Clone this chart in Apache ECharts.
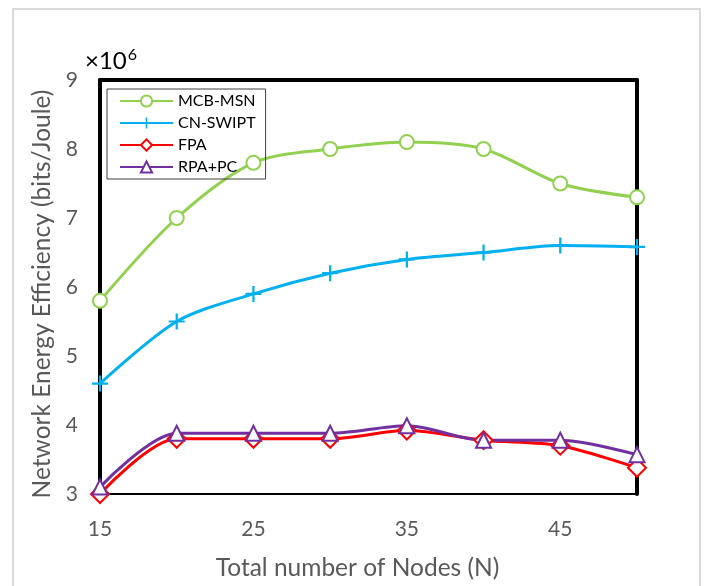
<!DOCTYPE html>
<html><head><meta charset="utf-8">
<script src="https://cdn.jsdelivr.net/npm/echarts@6/dist/echarts.min.js"></script>
<style>html,body{margin:0;padding:0;background:#fff}#c{width:705px;height:586px}</style>
</head><body><div id="c"></div>
<script>
const nodes = [15, 20, 25, 30, 35, 40, 45, 50];
const mcbMsn = [5.8, 7.0, 7.8, 8.0, 8.1, 8.0, 7.5, 7.3];
const cnSwipt = [4.6, 5.5, 5.9, 6.2, 6.4, 6.5, 6.6, 6.58];
const fpa = [3.0, 3.8, 3.8, 3.8, 3.92, 3.78, 3.7, 3.38];
const rpaPc = [3.1, 3.88, 3.88, 3.88, 3.99, 3.78, 3.78, 3.57];
const xTickLabels = ['15', '25', '35', '45'];
const yTickLabels = ['3', '4', '5', '6', '7', '8', '9'];

const pair = arr => nodes.map((n, i) => [n, arr[i]]);
const plusPath = 'path://M4.3,0h1.4v4.3h4.3v1.4h-4.3v4.3h-1.4v-4.3h-4.3v-1.4h4.3z';
const F = 'Lato, "Liberation Sans", sans-serif';

function mk(name, data, color, symbol, size, extra) {
  return Object.assign({
    name, type: 'line', data: pair(data), smooth: 0.3,
    symbol, symbolSize: size, showSymbol: true,
    lineStyle: { color, width: 3 },
    itemStyle: { color, borderColor: color, borderWidth: 2 },
    emphasis: { disabled: true }
  }, extra || {});
}

const chart = echarts.init(document.getElementById('c'), null, { renderer: 'canvas' });
chart.setOption({
  animation: false,
  backgroundColor: '#fff',
  graphic: [{ type: 'rect', shape: { x: 13, y: 9, width: 687, height: 600 },
    style: { fill: 'none', stroke: '#d9d9d9', lineWidth: 2 }, z: -1 }],
  title: { text: '{a|×10}{b|6}', left: 80, top: 42,
    textStyle: { fontWeight: 'normal', rich: {
      a: { fontSize: 24, fontFamily: F, color: '#000', fontWeight: 'normal', verticalAlign: 'bottom' },
      b: { fontSize: 16, fontFamily: F, color: '#000', fontWeight: 'normal', verticalAlign: 'top', padding: [0, 0, 10, 1] } } } },
  grid: { left: 100, right: 68, top: 80, bottom: 84 },
  legend: {
    orient: 'vertical', left: 107, top: 89, itemWidth: 53, itemHeight: 14, itemGap: 6,
    borderColor: '#404040', borderWidth: 1, padding: [4, 10, 4, 12],
    textStyle: { fontSize: 16, fontFamily: F, color: '#000' },
    data: ['MCB-MSN', 'CN-SWIPT', 'FPA', 'RPA+PC']
  },
  xAxis: [{
    type: 'value', min: 15, max: 50, interval: 5,
    name: 'Total number of Nodes (N)', nameLocation: 'middle', nameGap: 62,
    nameTextStyle: { fontSize: 24.5, fontFamily: F, color: '#595959', padding: [0, 22, 0, 0] },
    axisLine: { show: true, onZero: false, lineStyle: { color: '#000', width: 2 } },
    axisTick: { show: false }, splitLine: { show: false },
    axisLabel: { fontSize: 21, fontFamily: F, color: '#595959', margin: 25,
      formatter: v => xTickLabels.indexOf(String(v)) >= 0 ? String(v) : '' }
  }, {
    type: 'value', position: 'top', min: 15, max: 50, interval: 5,
    axisLine: { show: true, onZero: false, lineStyle: { color: '#000', width: 4 } },
    axisTick: { show: false }, axisLabel: { show: false }, splitLine: { show: false }
  }],
  yAxis: [{
    type: 'value', min: 3, max: 9, interval: 1,
    name: 'Network Energy Efficiency (bits/Joule)', nameLocation: 'middle', nameGap: 40,
    nameTextStyle: { fontSize: 24.5, fontFamily: F, color: '#595959', padding: [0, 14, 0, 0] },
    axisLine: { show: true, onZero: false, lineStyle: { color: '#000', width: 4 } },
    axisTick: { show: false }, splitLine: { show: false },
    axisLabel: { fontSize: 21, fontFamily: F, color: '#595959', margin: 22,
      formatter: v => yTickLabels.indexOf(String(v)) >= 0 ? String(v) : '' }
  }, {
    type: 'value', position: 'right', min: 3, max: 9, interval: 1,
    axisLine: { show: true, onZero: false, lineStyle: { color: '#000', width: 4 } },
    axisTick: { show: false }, axisLabel: { show: false }, splitLine: { show: false }
  }],
  series: [
    mk('MCB-MSN', mcbMsn, '#92D050', 'emptyCircle', 14),
    mk('CN-SWIPT', cnSwipt, '#00B0F0', plusPath, 16, { itemStyle: { color: '#00B0F0', borderWidth: 0 } }),
    mk('FPA', fpa, '#FF0000', 'emptyDiamond', 18),
    mk('RPA+PC', rpaPc, '#7030A0', 'emptyTriangle', 15)
  ]
});
</script></body></html>
